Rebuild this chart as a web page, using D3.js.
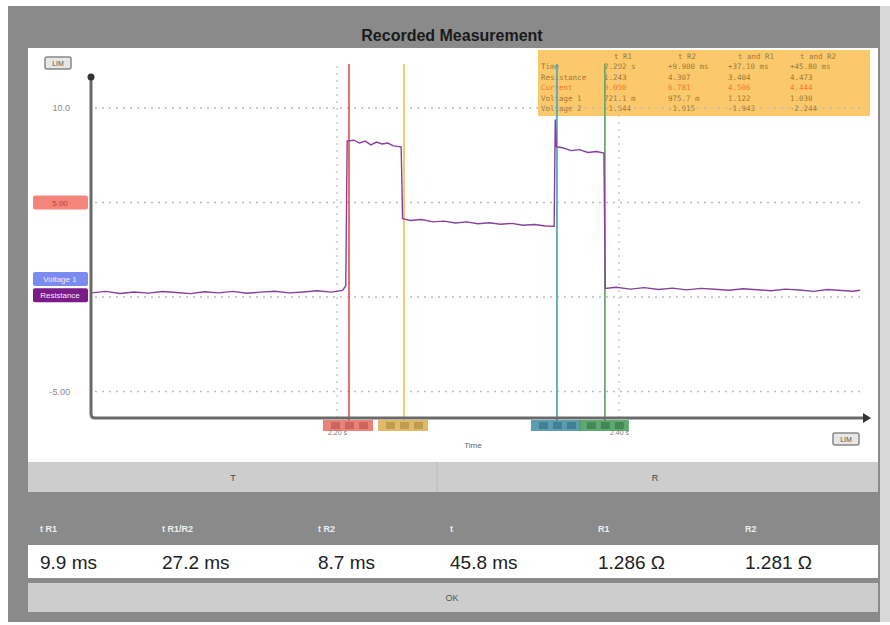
<!DOCTYPE html>
<html>
<head>
<meta charset="utf-8">
<title>Recorded Measurement</title>
<script src="https://d3js.org/d3.v7.min.js"></script>
<style>
body { margin: 0; background: #fff; }
svg text { font-family: "Liberation Sans", Arial, sans-serif; }
</style>
</head>
<body>
<svg id="main" width="890" height="625"></svg>
<script>
// ---- data ----
const gridValues = [10, 5, 0, -5];
const yTickValues = [10, -5];
const yTickLabels = ['10.0', '-5.00'];
const xTickValues = [2.20, 2.40];
const xTickLabels = ['2.20 s', '2.40 s'];

// recorded resistance trace: time (s) / value
const traceTime = [2.026, 2.036, 2.046, 2.056, 2.066, 2.076, 2.086, 2.096, 2.106, 2.116, 2.126, 2.136, 2.146, 2.156, 2.166, 2.176, 2.186, 2.196, 2.204, 2.2062,
  2.2072, 2.212, 2.216, 2.220, 2.224, 2.228, 2.232, 2.236, 2.240, 2.2455,
  2.2465, 2.252, 2.260, 2.268, 2.276, 2.284, 2.292, 2.300, 2.308, 2.316, 2.324, 2.332, 2.340, 2.348, 2.3540,
  2.3548, 2.3556, 2.360, 2.366, 2.372, 2.378, 2.384, 2.3893,
  2.3903, 2.398, 2.408, 2.418, 2.428, 2.438, 2.448, 2.458, 2.468, 2.478, 2.488, 2.498, 2.508, 2.518, 2.528, 2.538, 2.548, 2.558, 2.566, 2.571];
const traceValue = [0.22, 0.30, 0.19, 0.27, 0.21, 0.29, 0.24, 0.18, 0.28, 0.22, 0.30, 0.20, 0.26, 0.31, 0.22, 0.27, 0.33, 0.26, 0.35, 0.60,
  8.25, 8.30, 8.15, 8.25, 8.05, 8.20, 8.10, 8.15, 8.00, 7.95,
  4.15, 4.05, 4.10, 3.98, 4.02, 3.92, 3.98, 3.88, 3.93, 3.85, 3.90, 3.80, 3.84, 3.76, 3.75,
  9.40, 7.95, 7.90, 7.75, 7.80, 7.65, 7.70, 7.62,
  0.45, 0.52, 0.42, 0.50, 0.40, 0.47, 0.38, 0.46, 0.41, 0.36, 0.44, 0.39, 0.33, 0.42, 0.37, 0.30, 0.40, 0.35, 0.31, 0.36];

const cursorTimes = [2.2085, 2.2475, 2.356, 2.390];
const cursorColors = ['#e8605a', '#f0c860', '#5aa8c0', '#6aaa70'];
const cursorBarColors = ['#e8746a', '#dcb458', '#4a94a8', '#4e9e62'];

const channelLabels = ['5.00', 'Voltage 1', 'Resistance'];
const channelValues = [5, 0.95, 0.1];
const channelColors = ['#f4857a', '#7b8cf0', '#7a1c88'];

const infoHeader = ['', 't R1', 't R2', 't and R1', 't and R2'];
const infoRows = ['Time', 'Resistance', 'Current', 'Voltage 1', 'Voltage 2'];
const infoValues = [
  ['2.202 s', '+9.900 ms', '+37.10 ms', '+45.80 ms'],
  ['1.243', '4.307', '3.404', '4.473'],
  ['0.000', '6.781', '4.506', '4.444'],
  ['721.1 m', '975.7 m', '1.122', '1.030'],
  ['-1.944', '-1.915', '-1.943', '-2.244']
];

const resultLabels = ['t R1', 't R1/R2', 't R2', 't', 'R1', 'R2'];
const resultValues = ['9.9 ms', '27.2 ms', '8.7 ms', '45.8 ms', '1.286 \u03A9', '1.281 \u03A9'];
const tabLabels = ['T', 'R'];

// ---- layout ----
const svg = d3.select('#main');
const plot = {left: 91, right: 865, top: 75, bottom: 418};
const colX = [40, 162, 318, 450, 598, 745];

// frame
svg.append('rect').attr('x', 8).attr('y', 6).attr('width', 872).attr('height', 616).attr('fill', '#8a8a8a');
svg.append('rect').attr('x', 880).attr('y', 6).attr('width', 10).attr('height', 616).attr('fill', '#d8d8d8');
svg.append('text').attr('x', 452).attr('y', 41).attr('text-anchor', 'middle')
  .attr('font-size', 16).attr('font-weight', 'bold').attr('fill', '#1a1a1a')
  .text('Recorded Measurement');

// chart panel
svg.append('rect').attr('x', 28).attr('y', 48).attr('width', 850).attr('height', 414).attr('fill', '#fff');

const xs = d3.scaleLinear().domain([2.0255, 2.5745]).range([plot.left, plot.right]);
const ys = d3.scaleLinear().domain([-6.4, 11.75]).range([plot.bottom, plot.top]);

// info box (behind cursors)
svg.append('rect').attr('x', 538).attr('y', 50).attr('width', 332).attr('height', 66).attr('fill', '#fbc96c');
const infoCols = [541, 604, 668, 728, 790];
const info = svg.append('g');
infoHeader.forEach((h, i) => {
  info.append('text').attr('x', infoCols[i] + 10).attr('y', 59).attr('font-size', 7.5).attr('fill', '#9c7a34')
    .style('font-family', '"DejaVu Sans Mono", monospace').text(h);
});
infoRows.forEach((r, j) => {
  const col = r === 'Current' ? '#ee7a2a' : '#9c7a34';
  info.append('text').attr('x', infoCols[0]).attr('y', 69 + j * 10.5).attr('font-size', 7.5).attr('fill', col)
    .style('font-family', '"DejaVu Sans Mono", monospace').text(r);
  infoValues[j].forEach((v, i) => {
    info.append('text').attr('x', infoCols[i + 1]).attr('y', 69 + j * 10.5).attr('font-size', 7.5).attr('fill', col)
      .style('font-family', '"DejaVu Sans Mono", monospace').text(v);
  });
});

// dotted grid
svg.append('g').selectAll('line').data(gridValues).enter().append('line')
  .attr('x1', plot.left + 4).attr('x2', plot.right - 4)
  .attr('y1', d => ys(d)).attr('y2', d => ys(d))
  .attr('stroke', '#bbb').attr('stroke-width', 1.5).attr('stroke-dasharray', '2,5');
svg.append('g').selectAll('line').data(xTickValues).enter().append('line')
  .attr('x1', d => xs(d)).attr('x2', d => xs(d))
  .attr('y1', 66).attr('y2', plot.bottom)
  .attr('stroke', '#ccc').attr('stroke-width', 1.5).attr('stroke-dasharray', '2,5');

// y axis labels
const yAxis = svg.append('g').attr('transform', `translate(${plot.left},0)`)
  .call(d3.axisLeft(ys).tickValues(yTickValues).tickSize(0).tickPadding(21)
    .tickFormat((d, i) => yTickLabels[i]));
yAxis.select('.domain').remove();
yAxis.selectAll('text').attr('font-size', 9).attr('fill', '#888').style('font-family', '"Liberation Sans", Arial, sans-serif');

// channel tags on the left
channelLabels.forEach((c, i) => {
  const cy = ys(channelValues[i]);
  svg.append('rect').attr('x', 33).attr('y', cy - 7).attr('width', 55).attr('height', 14)
    .attr('rx', 2).attr('fill', channelColors[i]);
  svg.append('text').attr('x', 60).attr('y', cy + 3).attr('text-anchor', 'middle')
    .attr('font-size', 8).attr('fill', i === 0 ? '#b84038' : '#f4e8ff').text(c);
});

// cursor lines
svg.append('g').selectAll('line').data(cursorTimes).enter().append('line')
  .attr('x1', d => xs(d)).attr('x2', d => xs(d))
  .attr('y1', 64).attr('y2', 426)
  .attr('stroke', (d, i) => cursorColors[i]).attr('stroke-width', 1.8);

// trace
const pts = traceTime.map((t, i) => [t, traceValue[i]]);
svg.append('path').datum(pts)
  .attr('d', d3.line().x(d => xs(d[0])).y(d => ys(d[1])))
  .attr('fill', 'none').attr('stroke', '#8a3f9e').attr('stroke-width', 1.4);

// axes lines with arrows
svg.append('path')
  .attr('d', `M${plot.left},${plot.top} V${plot.bottom - 4} Q${plot.left},${plot.bottom} ${plot.left + 4},${plot.bottom} H${plot.right}`)
  .attr('fill', 'none').attr('stroke', '#6a6a6a').attr('stroke-width', 3);
svg.append('circle').attr('cx', plot.left).attr('cy', plot.top + 2).attr('r', 3.5).attr('fill', '#333');
svg.append('path').attr('d', `M${plot.right - 2},${plot.bottom - 5} L${plot.right + 6},${plot.bottom} L${plot.right - 2},${plot.bottom + 5} Z`).attr('fill', '#333');

// cursor markers under the x axis
cursorTimes.forEach((t, i) => {
  const cx = xs(t);
  svg.append('rect').attr('x', cx - 26).attr('y', 420).attr('width', 50).attr('height', 11).attr('fill', cursorBarColors[i]).attr('opacity', 0.9);
  [-18, -4, 10].forEach(o => {
    svg.append('rect').attr('x', cx + o).attr('y', 422).attr('width', 9).attr('height', 7)
      .attr('fill', d3.color(cursorBarColors[i]).darker(0.4));
  });
});

// x axis labels
const xAxis = svg.append('g').attr('transform', `translate(0,${plot.bottom})`)
  .call(d3.axisBottom(xs).tickValues(xTickValues).tickSize(0).tickPadding(12)
    .tickFormat((d, i) => xTickLabels[i]));
xAxis.select('.domain').remove();
xAxis.selectAll('text').attr('font-size', 7).attr('fill', '#777');
svg.append('text').attr('x', 473).attr('y', 448).attr('text-anchor', 'middle')
  .attr('font-size', 8).attr('fill', '#666').text('Time');

// small LIM buttons
[[45, 57], [833, 433]].forEach(p => {
  svg.append('rect').attr('x', p[0]).attr('y', p[1]).attr('width', 26).attr('height', 12).attr('rx', 2)
    .attr('fill', '#e6e6e6').attr('stroke', '#888').attr('stroke-width', 1.5);
  svg.append('text').attr('x', p[0] + 13).attr('y', p[1] + 9).attr('text-anchor', 'middle')
    .attr('font-size', 7).attr('fill', '#555').text('LIM');
});

// T / R tab bar
svg.append('rect').attr('x', 28).attr('y', 462).attr('width', 850).attr('height', 30).attr('fill', '#cdcdcd');
svg.append('line').attr('x1', 437).attr('x2', 437).attr('y1', 462).attr('y2', 492).attr('stroke', '#b8b8b8');
tabLabels.forEach((t, i) => {
  svg.append('text').attr('x', [233, 655][i]).attr('y', 481).attr('text-anchor', 'middle')
    .attr('font-size', 9).attr('fill', '#444').text(t);
});

// result labels and values
resultLabels.forEach((l, i) => {
  svg.append('text').attr('x', colX[i]).attr('y', 532).attr('font-size', 9).attr('font-weight', 'bold')
    .attr('fill', '#eeeeee').text(l);
});
svg.append('rect').attr('x', 28).attr('y', 545).attr('width', 850).attr('height', 33).attr('fill', '#fff');
resultValues.forEach((v, i) => {
  svg.append('text').attr('x', colX[i]).attr('y', 569).attr('font-size', 19).attr('fill', '#222').text(v);
});

// OK button
svg.append('rect').attr('x', 28).attr('y', 583).attr('width', 850).attr('height', 29).attr('fill', '#cdcdcd');
svg.append('text').attr('x', 452).attr('y', 601).attr('text-anchor', 'middle')
  .attr('font-size', 9).attr('fill', '#555').text('OK');
</script>
</body>
</html>
